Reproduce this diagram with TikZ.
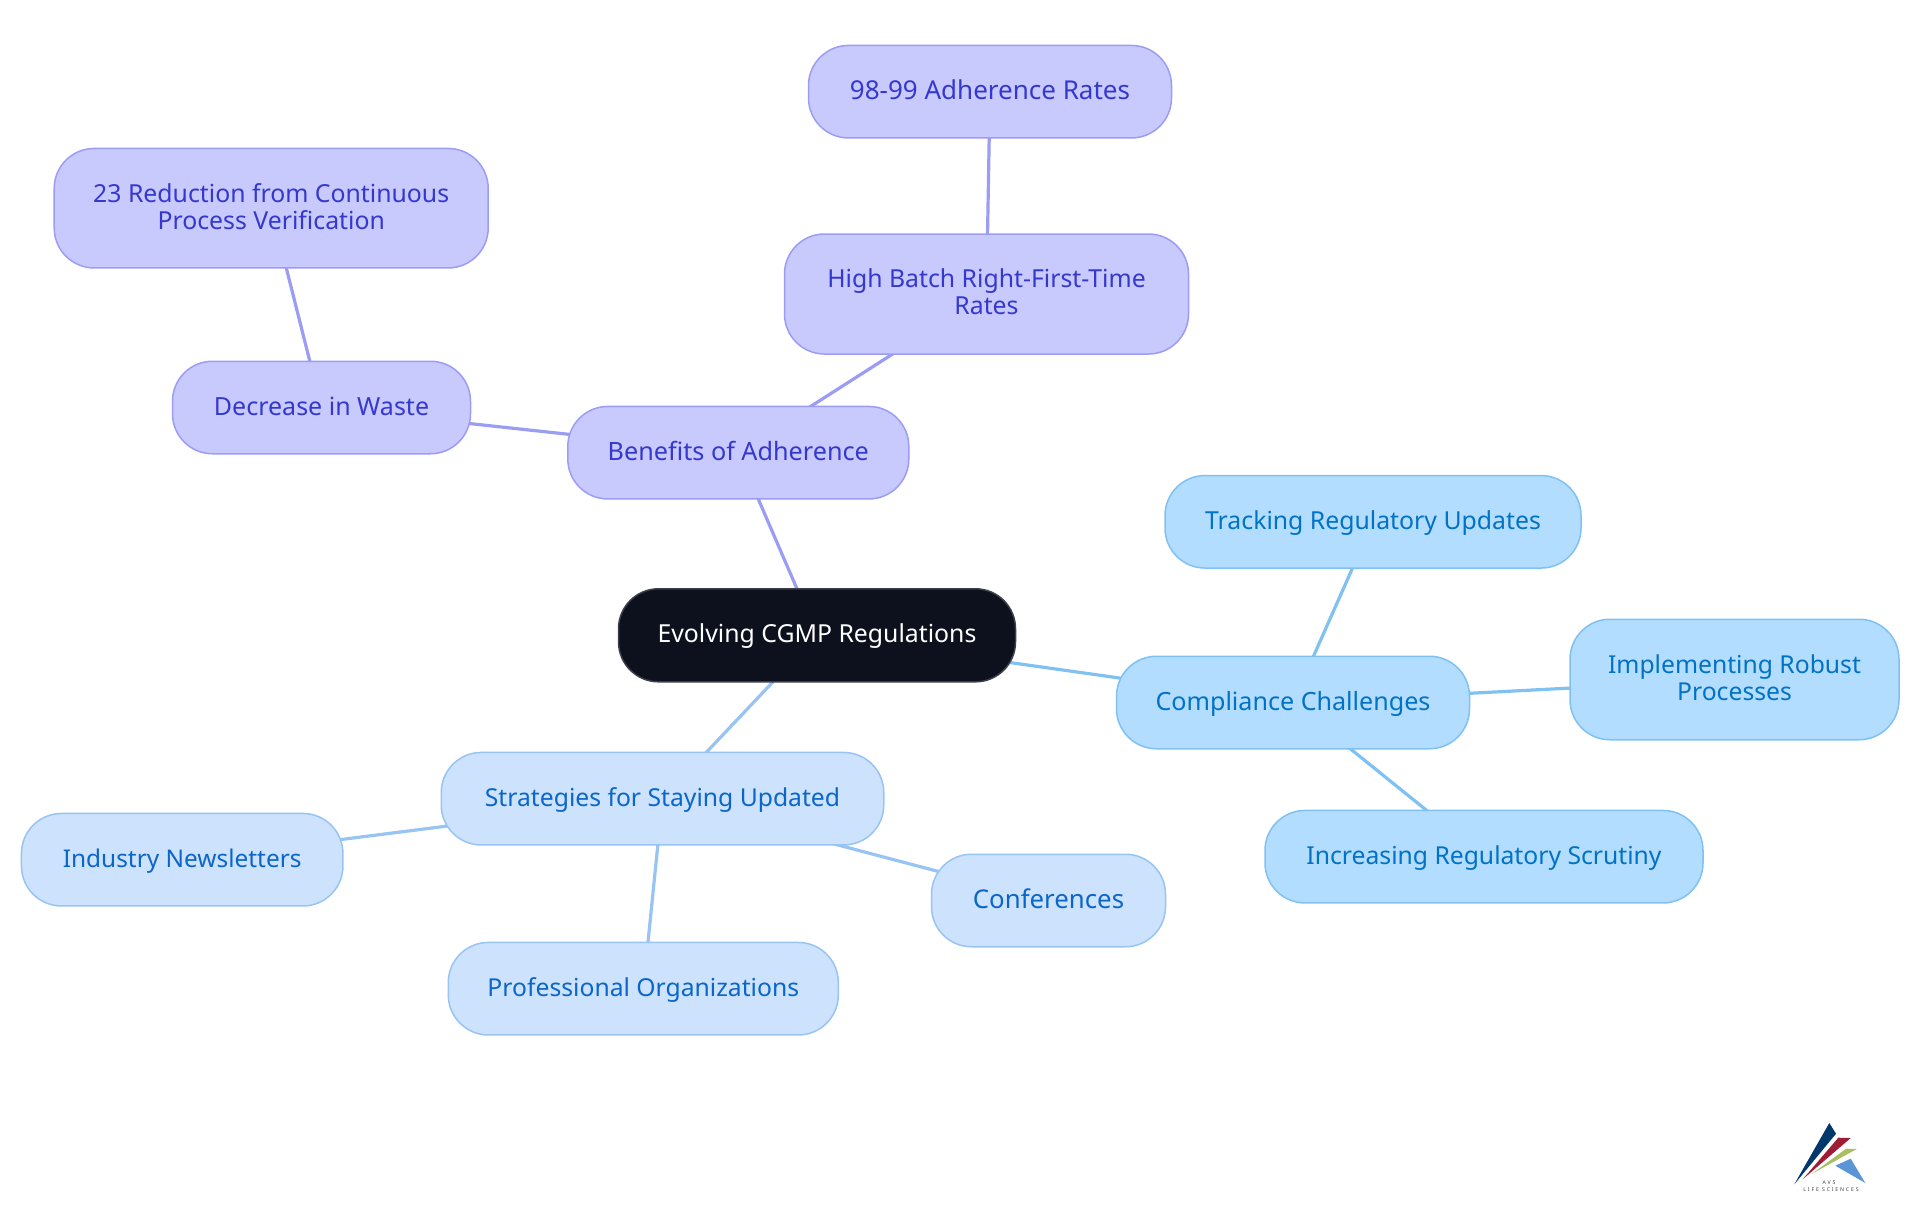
\documentclass[tikz,border=0pt]{standalone}
\usepackage{fontspec}
\setmainfont{Noto Sans}
\newfontfamily\logofont[LetterSpace=35]{Noto Sans}
\usetikzlibrary{backgrounds}
\definecolor{purpfill}{HTML}{C8C9FD}
\definecolor{purpline}{HTML}{9B9DF5}
\definecolor{purptext}{HTML}{3538CD}
\definecolor{skyfill}{HTML}{B2DDFF}
\definecolor{skyline}{HTML}{7FC1F3}
\definecolor{skytext}{HTML}{0272C4}
\definecolor{palefill}{HTML}{CCE2FD}
\definecolor{paleline}{HTML}{98C4F3}
\definecolor{paletext}{HTML}{0B66C8}
\definecolor{rootfill}{HTML}{0C111D}
\definecolor{rootline}{HTML}{3A3F4A}
\tikzset{
  box/.style={rounded corners=40pt,line width=1.5pt,inner sep=0pt,align=center},
  fs/.style={font=\fontsize{#1}{27}\selectfont},
  oneline/.style={text height=19pt,text depth=4pt},
  twoline/.style={text depth=4pt},
  purpbox/.style={box,draw=purpline,fill=purpfill,text=purptext},
  skybox/.style={box,draw=skyline,fill=skyfill,text=skytext},
  palebox/.style={box,draw=paleline,fill=palefill,text=paletext},
  rootbox/.style={box,draw=rootline,fill=rootfill,text=white},
  purpedge/.style={draw=purpline,line width=3.2pt},
  skyedge/.style={draw=skyline,line width=3.2pt},
  paleedge/.style={draw=paleline,line width=3.2pt},
  sz/.style n args={2}{minimum width=#1pt,minimum height=#2pt},
  logotext/.style={inner sep=0pt,font=\logofont\fontsize{5.2}{6}\selectfont,text=black!75}
}
\begin{document}
\begin{tikzpicture}[x=1pt,y=-1pt]
\useasboundingbox (0,0) rectangle (1920,1215);
\node[rootbox,sz={397}{93},fs=24.8,oneline] (root) at (817,635.3) {Evolving CGMP Regulations};
\node[purpbox,sz={341}{92.5},fs=25.2,oneline] (ben) at (738.3,452.7) {Benefits of Adherence};
\node[purpbox,sz={404}{120},fs=24.8,twoline] (high) at (986.5,294) {High Batch Right-First-Time\\Rates};
\node[purpbox,sz={363}{92.5},fs=26,oneline] (rates) at (990,91.7) {98-99 Adherence Rates};
\node[purpbox,sz={298}{92.5},fs=25,oneline] (waste) at (321.5,407.5) {Decrease in Waste};
\node[purpbox,sz={434}{119.5},fs=24.8,twoline] (cpv) at (271.2,208.2) {23 Reduction from Continuous\\Process Verification};
\node[skybox,sz={353}{92.5},fs=25.1,oneline] (comp) at (1293,702.5) {Compliance Challenges};
\node[skybox,sz={416}{92.5},fs=24.8,oneline] (track) at (1373,521.8) {Tracking Regulatory Updates};
\node[skybox,sz={329}{120.5},fs=24.7,twoline] (impl) at (1734.5,679.5) {Implementing Robust\\Processes};
\node[skybox,sz={438}{92.5},fs=24.7,oneline] (scrut) at (1484,856.7) {Increasing Regulatory Scrutiny};
\node[palebox,sz={442.5}{92.5},fs=24.7,oneline] (strat) at (662.5,798.7) {Strategies for Staying Updated};
\node[palebox,sz={321.5}{92.5},fs=24.4,oneline] (news) at (182.2,859.7) {Industry Newsletters};
\node[palebox,sz={234}{92.5},fs=25.8,oneline] (conf) at (1048.5,900.5) {Conferences};
\node[palebox,sz={390}{92.5},fs=24.7,oneline] (prof) at (643.3,988.7) {Professional Organizations};
\begin{scope}[on background layer]
\draw[purpedge] (root.center) -- (ben.center);
\draw[purpedge] (ben.center) -- (high.center);
\draw[purpedge] (high.center) -- (rates.center);
\draw[purpedge] (ben.center) -- (waste.center);
\draw[purpedge] (waste.center) -- (cpv.center);
\draw[skyedge] (root.center) -- (comp.center);
\draw[skyedge] (comp.center) -- (track.center);
\draw[skyedge] (comp.center) -- (impl.center);
\draw[skyedge] (comp.center) -- (scrut.center);
\draw[paleedge] (root.center) -- (strat.center);
\draw[paleedge] (strat.center) -- (news.center);
\draw[paleedge] (strat.center) -- (conf.center);
\draw[paleedge] (strat.center) -- (prof.center);
\end{scope}
% logo
\fill[fill={rgb,255:red,0;green,56;blue,108}] (1794.3,1184.3) -- (1829.3,1123) -- (1836,1133.7) -- cycle;
\fill[fill={rgb,255:red,160;green,28;blue,52}] (1802.7,1179.3) -- (1838.3,1137.7) -- (1850.7,1138) -- cycle;
\fill[fill={rgb,255:red,170;green,190;blue,100}] (1811.7,1174) -- (1846,1148.7) -- (1856.7,1149) -- cycle;
\fill[fill={rgb,255:red,90;green,150;blue,215}] (1835.3,1165.7) -- (1850.7,1158.7) -- (1865.3,1183) -- cycle;
\node[logotext] (logoa) at (1829,1182.5) {AVS};
\node[logotext] (logob) at (1831,1189.3) {LIFE SCIENCES};
\end{tikzpicture}
\end{document}
